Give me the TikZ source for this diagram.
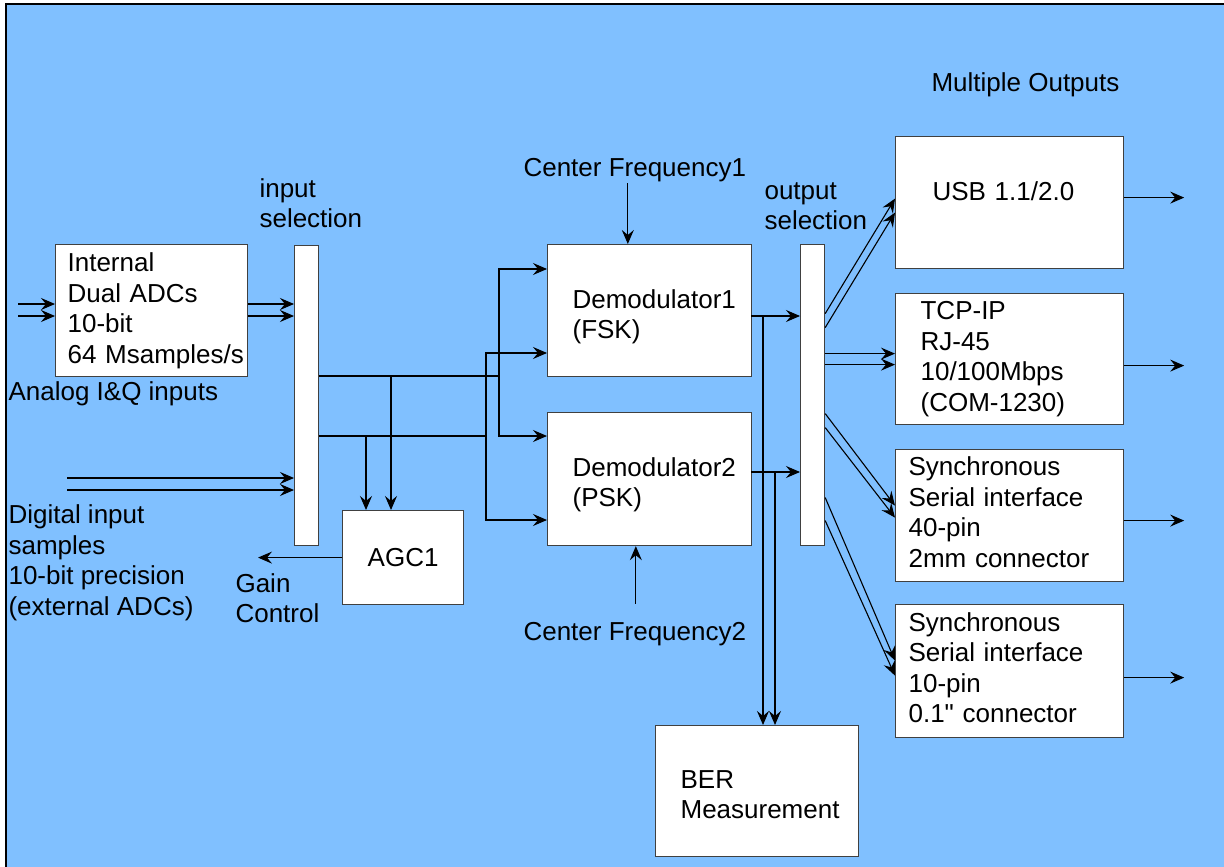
\documentclass[tikz,border=0pt]{standalone}
\usepackage{fontspec}
\setmainfont{Liberation Sans}[Ligatures=TeXOff]
\usetikzlibrary{arrows.meta}
\hyphenpenalty=10000
\exhyphenpenalty=10000
\definecolor{bgblue}{RGB}{128,192,255}

\begin{document}
\begin{tikzpicture}[x=1pt, y=-1pt, >={Stealth[length=14pt,width=12pt,inset=5pt]},
  font=\fontsize{26}{30.5}\selectfont, line width=1.1pt,
  blk/.style={draw=black!75, fill=white, line width=1.2pt, anchor=north west, align=left, inner ysep=0pt},
  bar/.style={draw=black!75, fill=white, line width=1.2pt, anchor=north west, minimum width=24, minimum height=300, inner sep=0pt},
  lbl/.style={anchor=west, align=left, inner sep=0pt}]
  \useasboundingbox (0,0) rectangle (1224,867);
  \fill[bgblue] (6,4) rectangle (1224,867);
  \draw[line width=1.5pt] (6,867) -- (6,4) -- (1224,4);

  \node[blk, text width=168, inner xsep=12, minimum height=132] (adc) at (55,244) {Internal\\Dual ADCs\\10-bit\\64~Msamples/s};
  \node[bar] (insel) at (294,245) {};
  \node[blk, minimum width=121, minimum height=94] (agc) at (342,510) {AGC1};
  \node[blk, text width=154, inner xsep=25, minimum height=132, text height=31] (dem1) at (547,244) {Demodulator1\\(FSK)};
  \node[blk, text width=154, inner xsep=25, minimum height=133, text height=30] (dem2) at (547,412) {Demodulator2\\(PSK)};
  \node[bar, minimum height=301] (outsel) at (800,244) {};
  \node[blk, text width=153, inner xsep=25, minimum height=131, text height=25] (ber) at (655,725) {BER\\Measurement};
  \node[blk, text width=154, inner xsep=37, minimum height=132, text depth=24] (usb) at (895,136) {USB 1.1/2.0};
  \node[blk, text width=178, inner xsep=25, minimum height=131] (tcp) at (895,293) {TCP-IP\\RJ-45\\10/100Mbps\\(COM-1230)};
  \node[blk, text width=202, inner xsep=13, minimum height=132, text depth=99] (sync1) at (895,449) {Synchronous\\Serial interface\\40-pin\\2mm connector};
  \node[blk, text width=202, inner xsep=13, minimum height=133, text depth=99] (sync2) at (895,604) {Synchronous\\Serial interface\\10-pin\\0.1" connector};

  \node[lbl] (multi) at (931,85) {Multiple Outputs};
  \node[lbl] (cf1) at (523,170) {Center Frequency1};
  \node[lbl] (cf2) at (523,634) {Center Frequency2};
  \node[lbl] (insellbl) at (259,203) {input\\selection};
  \node[lbl] (outsellbl) at (764,206) {output\\selection};
  \node[lbl] (analog) at (8,394) {Analog I\&Q inputs};
  \node[lbl] (digital) at (8,563) {Digital input\\samples\\10-bit precision\\(external ADCs)};
  \node[lbl] (gain) at (235,598) {Gain\\Control};

  \coordinate (ain1) at (18,304);
  \coordinate (ain2) at (18,316);
  \coordinate (din1) at (67,478);
  \coordinate (din2) at (67,490);
  \coordinate (bA) at (499,376);
  \coordinate (bB) at (486,436);
  \coordinate (g1) at (366,436);
  \coordinate (g2) at (391,376);
  \coordinate (gc) at (258,557);
  \coordinate (d1a) at (547,269);
  \coordinate (d1b) at (547,353);
  \coordinate (d2a) at (547,436);
  \coordinate (d2b) at (547,520);
  \coordinate (d1o) at (751,316);
  \coordinate (d2o) at (751,472);
  \coordinate (bv1) at (763,316);
  \coordinate (bv2) at (775,472);
  \path (cf1.south) ++(-7,1) coordinate (f1);
  \path (cf2.north) ++(1,-18) coordinate (f2);

  \foreach \p in {ain1,ain2} {
    \draw[->] (\p) -- (\p -| adc.west);
    \draw[->] (\p -| adc.east) -- (\p -| insel.west);
  }
  \foreach \p in {din1,din2}
    \draw[->] (\p) -- (\p -| insel.west);
  \draw[->] (agc.west) -- (agc.west -| gc);

  \draw (insel.east |- bA) -- (bA);
  \draw (insel.east |- bB) -- (bB);
  \draw[->] (bA) |- (d1a);
  \draw[->] (bA) |- (d2a);
  \draw[->] (bB) |- (d1b);
  \draw[->] (bB) |- (d2b);
  \draw[->] (g1) -- (g1 |- agc.north);
  \draw[->] (g2) -- (g2 |- agc.north);

  \draw[->] (f1) -- (f1 |- dem1.north);
  \draw[->] (f2) -- (f2 |- dem2.south);

  \draw[->] (d1o) -- (d1o -| outsel.west);
  \draw[->] (d2o) -- (d2o -| outsel.west);
  \draw[->] (bv1) -- (bv1 |- ber.north);
  \draw[->] (bv2) -- (bv2 |- ber.north);

  \foreach \a/\b/\t in {81.5/4/usb, 67.5/-10/usb, 41.5/5.5/tcp, 30.5/-5.5/tcp,
      -18.5/10/sync1, -32.5/-2/sync1, -102.5/10.5/sync2, -125.5/-4.5/sync2}
    \draw[->] ([yshift=\a pt]outsel.east) -- ([yshift=\b pt]\t.west);
  \foreach \t/\s in {usb/5, tcp/-6.5, sync1/-5, sync2/-6.5}
    \draw[->] ([yshift=\s pt]\t.east) -- ++(60,0);
\end{tikzpicture}
\end{document}
